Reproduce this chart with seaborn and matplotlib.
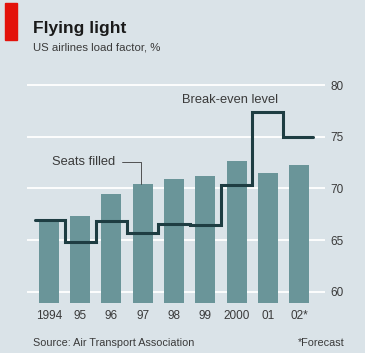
import matplotlib
matplotlib.use("Agg")
import matplotlib.pyplot as plt
import seaborn as sns
import pandas as pd
from matplotlib.patches import Rectangle

years = ["1994", "95", "96", "97", "98", "99", "2000", "01", "02*"]
seats_filled = [66.9, 67.3, 69.5, 70.4, 70.9, 71.2, 72.7, 71.5, 72.3]
break_even = [66.9, 64.8, 66.8, 65.7, 66.6, 66.5, 70.3, 77.4, 75.0]
y_ticks = [60, 65, 70, 75, 80]

BG = "#dae3e8"
BAR = "#6a9599"
LINE = "#1e3d42"
TXT = "#3a3a3a"

sns.set_theme(style="white")
plt.rcParams["font.family"] = ["Liberation Sans", "DejaVu Sans"]

df = pd.DataFrame({"year": years, "seats": seats_filled})

fig = plt.figure(figsize=(3.65, 3.53), dpi=100, facecolor=BG)
ax = fig.add_axes([27 / 365, 1 - 303 / 353, (325 - 27) / 365, (303 - 79) / 353])
ax.set_facecolor(BG)

sns.barplot(data=df, x="year", y="seats", color=BAR, width=0.64,
            saturation=1, ax=ax, bottom=0, zorder=2, linewidth=0, edgecolor="none")
ax.set_ylim(58.9, 80.6)
ax.set_xlim(-0.70, 8.83)

for t in y_ticks:
    ax.axhline(t, color="white", lw=1.3, zorder=1)

# break-even step line
xs = [-0.45] + list(range(len(years))) + [len(years) - 1 + 0.45]
ys = [break_even[0]] + break_even + [break_even[-1]]
ax.step(xs, ys, where="mid", color=LINE, lw=2.2, zorder=3, solid_joinstyle="miter")

for s in ax.spines.values():
    s.set_visible(False)
ax.set_xlabel("")
ax.set_ylabel("")
ax.set_yticks(y_ticks)
ax.set_yticklabels([str(t) for t in y_ticks])
ax.yaxis.tick_right()
ax.tick_params(axis="y", length=0, pad=4, labelsize=8.5, labelcolor=TXT)
ax.tick_params(axis="x", length=0, pad=5, labelsize=8.5, labelcolor=TXT)
ax.set_xticks(range(len(years)))
ax.set_xticklabels(years)

# annotations
ax.text(0.10, 72.6, "Seats filled", fontsize=9.3, color=TXT, va="center", ha="left", zorder=4)
ax.plot([2.35, 2.95, 2.95], [72.6, 72.6, 70.4], color=TXT, lw=0.6, zorder=4)
ax.text(5.8, 78.6, "Break-even level", fontsize=9.3, color=TXT, va="center", ha="center", zorder=4)

# header
fig.patches.append(Rectangle((5 / 365, 1 - 40 / 353), 12 / 365, 37 / 353,
                             transform=fig.transFigure, color="#e3120b", zorder=5))
fig.text(33 / 365, 1 - 29 / 353, "Flying light", fontsize=12.5, fontweight="bold",
         color="#1a1a1a", va="center", ha="left")
fig.text(33 / 365, 1 - 48 / 353, "US airlines load factor, %", fontsize=8.2,
         color=TXT, va="center", ha="left")
fig.text(33 / 365, 1 - 343 / 353, "Source: Air Transport Association", fontsize=7.8,
         color=TXT, va="center", ha="left")
fig.text(345 / 365, 1 - 343 / 353, "*Forecast", fontsize=7.8,
         color=TXT, va="center", ha="right")

fig.savefig("out.png", dpi=100, facecolor=BG)
